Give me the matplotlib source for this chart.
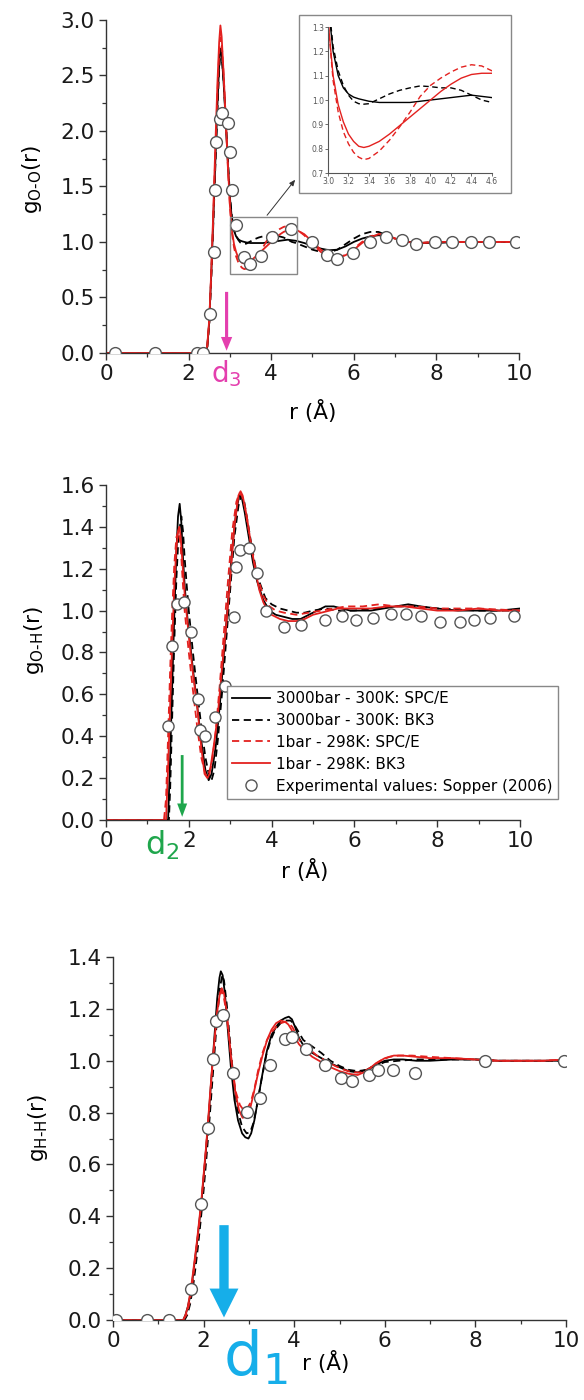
import matplotlib
matplotlib.use('Agg')
import matplotlib.pyplot as plt
from matplotlib.patches import Rectangle
from matplotlib.ticker import MultipleLocator, FormatStrFormatter

plt.rcParams['font.family'] = ['DejaVu Sans']
plt.rcParams['mathtext.fontset'] = 'dejavusans'

# ---------------- O-O ----------------
oo_r = [0, 2.40, 2.45, 2.50, 2.55, 2.60, 2.65, 2.70, 2.74, 2.77, 2.80, 2.85, 2.90, 2.95, 3.00, 3.05,
        3.10, 3.15, 3.20, 3.25, 3.30, 3.35, 3.40, 3.50, 3.60, 3.70, 3.80, 3.90, 4.00, 4.10, 4.20,
        4.30, 4.40, 4.50, 4.60, 4.80, 5.00, 5.20, 5.40, 5.60, 5.80, 6.00, 6.20, 6.40, 6.60, 6.80,
        7.00, 7.30, 7.60, 8.00, 8.50, 9.00, 9.50, 10.0]
oo_spce_3000 = [0, 0, 0.05, 0.28, 0.72, 1.22, 1.75, 2.25, 2.60, 2.74, 2.70, 2.42, 2.08, 1.72, 1.40,
                1.20, 1.10, 1.05, 1.025, 1.012, 1.005, 1.0, 0.995, 0.99, 0.99, 0.99, 0.99, 0.995,
                1.0, 1.005, 1.01, 1.015, 1.02, 1.015, 1.01, 0.99, 0.965, 0.94, 0.925, 0.93, 0.96,
                1.0, 1.03, 1.05, 1.06, 1.05, 1.03, 1.0, 0.99, 0.99, 1.0, 1.0, 1.0, 1.0]
oo_bk3_3000 = [0, 0, 0.04, 0.25, 0.68, 1.18, 1.70, 2.20, 2.55, 2.71, 2.69, 2.44, 2.10, 1.75, 1.42,
               1.22, 1.12, 1.06, 1.02, 0.995, 0.985, 0.983, 0.985, 1.005, 1.025, 1.04, 1.05, 1.058,
               1.055, 1.05, 1.05, 1.04, 1.02, 1.0, 0.99, 0.96, 0.93, 0.91, 0.905, 0.93, 0.98, 1.03,
               1.07, 1.09, 1.09, 1.06, 1.03, 1.0, 0.99, 1.0, 1.0, 1.0, 1.0, 1.0]
oo_spce_1 = [0, 0, 0.05, 0.28, 0.72, 1.25, 1.82, 2.35, 2.70, 2.84, 2.80, 2.50, 2.10, 1.68, 1.33,
             1.08, 0.95, 0.87, 0.82, 0.785, 0.765, 0.755, 0.76, 0.79, 0.835, 0.89, 0.95, 1.015,
             1.06, 1.09, 1.115, 1.135, 1.145, 1.14, 1.12, 1.06, 0.98, 0.91, 0.87, 0.86, 0.88, 0.94,
             1.0, 1.05, 1.07, 1.06, 1.03, 1.0, 0.99, 1.0, 1.0, 1.0, 1.0, 1.0]
oo_bk3_1 = [0, 0, 0.06, 0.30, 0.75, 1.30, 1.90, 2.45, 2.80, 2.95, 2.85, 2.50, 2.10, 1.70, 1.33,
            1.10, 0.98, 0.91, 0.86, 0.83, 0.81, 0.805, 0.81, 0.83, 0.86, 0.895, 0.93, 0.965, 1.0,
            1.035, 1.065, 1.09, 1.105, 1.11, 1.11, 1.07, 1.0, 0.93, 0.88, 0.865, 0.88, 0.93, 0.99,
            1.04, 1.07, 1.06, 1.03, 1.0, 0.99, 1.0, 1.0, 1.0, 1.0, 1.0]
oo_exp_r = [0.22, 1.19, 2.20, 2.35, 2.52, 2.62, 2.64, 2.67, 2.76, 2.82, 2.96, 3.00, 3.04, 3.15, 3.34,
            3.49, 3.75, 4.03, 4.47, 4.98, 5.34, 5.60, 5.97, 6.39, 6.78, 7.16, 7.50, 7.97, 8.38,
            8.83, 9.28, 9.93]
oo_exp_g = [0, 0, 0, 0, 0.35, 0.91, 1.47, 1.90, 2.11, 2.16, 2.07, 1.81, 1.47, 1.15, 0.86, 0.80,
            0.87, 1.04, 1.12, 1.0, 0.88, 0.85, 0.90, 1.0, 1.04, 1.02, 0.98, 1.0, 1.0, 1.0, 1.0, 1.0]

# ---------------- O-H ----------------
oh_r_spce_3000 = [0, 1.50, 1.55, 1.60, 1.65, 1.70, 1.74, 1.78, 1.82, 1.86, 1.90, 1.95, 2.00, 2.10,
                  2.20, 2.30, 2.40, 2.48, 2.55, 2.65, 2.75, 2.85, 2.95, 3.05, 3.15, 3.22, 3.28, 3.35,
                  3.45, 3.55, 3.65, 3.80, 3.95, 4.10, 4.30, 4.50, 4.70, 4.90, 5.10, 5.30, 5.50, 5.70,
                  5.90, 6.10, 6.40, 6.70, 7.00, 7.30, 7.60, 8.00, 8.50, 9.00, 9.50, 10.0]
oh_spce_3000 = [0, 0, 0.30, 0.65, 0.98, 1.28, 1.45, 1.51, 1.42, 1.25, 1.12, 1.0, 0.90, 0.72, 0.55,
                0.38, 0.24, 0.19, 0.22, 0.35, 0.55, 0.80, 1.05, 1.30, 1.48, 1.55, 1.54, 1.47, 1.35,
                1.23, 1.14, 1.05, 1.0, 0.98, 0.97, 0.96, 0.96, 0.98, 1.0, 1.02, 1.02, 1.01, 1.0,
                1.0, 1.0, 1.01, 1.02, 1.03, 1.02, 1.01, 1.0, 1.0, 1.0, 1.01]
oh_r_bk3_3000 = [0, 1.52, 1.55, 1.60, 1.65, 1.70, 1.75, 1.82, 1.86, 1.90, 1.95, 2.00, 2.10, 2.20,
                 2.30, 2.40, 2.50, 2.55, 2.62, 2.70, 2.80, 2.90, 3.00, 3.10, 3.20, 3.27, 3.33, 3.40,
                 3.50, 3.60, 3.70, 3.85, 4.00, 4.20, 4.40, 4.60, 4.80, 5.00, 5.30, 5.60, 6.00, 6.50,
                 7.00, 7.50, 8.00, 9.00, 10.0]
oh_bk3_3000 = [0, 0, 0.15, 0.50, 0.85, 1.15, 1.35, 1.45, 1.38, 1.25, 1.12, 1.0, 0.80, 0.62, 0.45,
               0.30, 0.20, 0.19, 0.24, 0.38, 0.60, 0.85, 1.10, 1.35, 1.50, 1.55, 1.53, 1.45, 1.33,
               1.22, 1.14, 1.06, 1.03, 1.01, 1.0, 0.99, 0.99, 1.0, 1.01, 1.0, 1.0, 1.01, 1.02,
               1.02, 1.01, 1.0, 1.0]
oh_r_spce_1 = [0, 1.40, 1.45, 1.50, 1.55, 1.60, 1.65, 1.70, 1.75, 1.80, 1.85, 1.90, 2.00, 2.10,
               2.20, 2.30, 2.40, 2.45, 2.55, 2.65, 2.75, 2.85, 2.95, 3.05, 3.15, 3.22, 3.28, 3.35,
               3.45, 3.55, 3.65, 3.80, 3.95, 4.10, 4.30, 4.60, 4.90, 5.20, 5.50, 5.80, 6.20, 6.60,
               7.00, 7.50, 8.00, 9.00, 10.0]
oh_spce_1 = [0, 0, 0.10, 0.40, 0.72, 1.0, 1.22, 1.35, 1.38, 1.32, 1.15, 1.0, 0.80, 0.62, 0.45,
             0.30, 0.22, 0.21, 0.26, 0.42, 0.65, 0.90, 1.15, 1.38, 1.52, 1.56, 1.55, 1.50, 1.38,
             1.26, 1.17, 1.07, 1.02, 1.0, 0.99, 0.98, 0.99, 1.0, 1.01, 1.02, 1.02, 1.03, 1.02,
             1.02, 1.01, 1.01, 1.0]
oh_r_bk3_1 = [0, 1.45, 1.50, 1.55, 1.60, 1.65, 1.70, 1.74, 1.77, 1.80, 1.85, 1.90, 1.95, 2.00,
              2.10, 2.20, 2.30, 2.38, 2.45, 2.50, 2.60, 2.70, 2.80, 2.90, 3.00, 3.10, 3.20, 3.25,
              3.30, 3.40, 3.50, 3.60, 3.70, 3.80, 3.90, 4.00, 4.20, 4.40, 4.60, 4.80, 5.00, 5.20,
              5.40, 5.60, 5.80, 6.00, 6.40, 6.80, 7.20, 7.60, 8.00, 8.50, 9.00, 9.50, 10.0]
oh_bk3_1 = [0, 0, 0.25, 0.55, 0.85, 1.12, 1.30, 1.38, 1.40, 1.36, 1.22, 1.08, 0.98, 0.88, 0.70,
            0.55, 0.35, 0.22, 0.20, 0.22, 0.35, 0.50, 0.72, 0.92, 1.15, 1.40, 1.55, 1.57, 1.55,
            1.45, 1.32, 1.20, 1.10, 1.04, 1.0, 0.98, 0.96, 0.95, 0.95, 0.96, 0.98, 0.99, 1.0,
            1.01, 1.01, 1.01, 1.01, 1.02, 1.02, 1.01, 1.0, 1.0, 1.01, 1.0, 1.0]
oh_exp_r = [1.49, 1.59, 1.72, 1.88, 2.06, 2.22, 2.26, 2.40, 2.64, 2.88, 3.08, 3.13, 3.24, 3.45,
            3.65, 3.87, 4.29, 4.72, 5.29, 5.69, 6.05, 6.46, 6.88, 7.25, 7.60, 8.07, 8.54, 8.90,
            9.28, 9.85]
oh_exp_g = [0.45, 0.83, 1.03, 1.04, 0.90, 0.58, 0.43, 0.40, 0.49, 0.64, 0.97, 1.21, 1.29, 1.30,
            1.18, 1.0, 0.92, 0.93, 0.955, 0.976, 0.955, 0.965, 0.985, 0.985, 0.976, 0.944, 0.944,
            0.955, 0.965, 0.976]

# ---------------- H-H ----------------
hh_r_spce_3000 = [0, 1.55, 1.60, 1.65, 1.70, 1.75, 1.80, 1.85, 1.90, 1.95, 2.00, 2.05, 2.10, 2.15,
                  2.20, 2.25, 2.30, 2.35, 2.38, 2.42, 2.47, 2.53, 2.60, 2.68, 2.76, 2.85, 2.92,
                  2.99, 3.05, 3.12, 3.20, 3.30, 3.40, 3.50, 3.60, 3.70, 3.80, 3.88, 3.95, 4.02,
                  4.10, 4.20, 4.40, 4.60, 4.80, 5.00, 5.20, 5.40, 5.60, 5.80, 6.00, 6.20, 6.40,
                  6.70, 7.00, 7.50, 8.00, 8.50, 9.00, 9.50, 10.0]
hh_spce_3000 = [0, 0, 0.02, 0.05, 0.09, 0.15, 0.22, 0.29, 0.37, 0.45, 0.55, 0.65, 0.76, 0.88, 1.0,
                1.12, 1.24, 1.32, 1.345, 1.33, 1.26, 1.13, 0.98, 0.85, 0.77, 0.72, 0.705, 0.70,
                0.72, 0.77, 0.85, 0.95, 1.04, 1.10, 1.13, 1.155, 1.165, 1.17, 1.16, 1.13, 1.09,
                1.06, 1.03, 1.01, 0.99, 0.975, 0.96, 0.955, 0.965, 0.985, 1.0, 1.005, 1.005, 1.0,
                1.0, 1.005, 1.005, 1.0, 1.0, 1.0, 1.0]
hh_r_bk3_3000 = [0, 1.58, 1.64, 1.70, 1.76, 1.82, 1.88, 1.94, 2.00, 2.06, 2.12, 2.18, 2.24, 2.30,
                 2.36, 2.41, 2.45, 2.51, 2.58, 2.66, 2.75, 2.85, 2.95, 3.03, 3.10, 3.18, 3.28,
                 3.38, 3.48, 3.58, 3.70, 3.82, 3.92, 4.00, 4.10, 4.20, 4.40, 4.60, 4.80, 5.00,
                 5.20, 5.40, 5.60, 5.80, 6.00, 6.30, 6.70, 7.00, 7.50, 8.00, 8.50, 9.00, 9.50, 10.0]
hh_bk3_3000 = [0, 0, 0.02, 0.06, 0.12, 0.20, 0.29, 0.39, 0.50, 0.62, 0.75, 0.89, 1.03, 1.17, 1.28,
               1.33, 1.31, 1.22, 1.08, 0.93, 0.81, 0.745, 0.72, 0.725, 0.76, 0.83, 0.93, 1.02,
               1.08, 1.12, 1.145, 1.155, 1.155, 1.14, 1.11, 1.08, 1.055, 1.03, 1.0, 0.98, 0.965,
               0.96, 0.965, 0.98, 0.995, 1.0, 1.005, 1.005, 1.005, 1.005, 1.0, 1.0, 1.0, 1.0]
hh_r_spce_1 = [0, 1.55, 1.62, 1.68, 1.74, 1.80, 1.86, 1.92, 1.98, 2.04, 2.10, 2.16, 2.22, 2.28,
               2.34, 2.39, 2.44, 2.50, 2.56, 2.63, 2.71, 2.80, 2.88, 2.96, 3.04, 3.12, 3.20, 3.30,
               3.40, 3.50, 3.60, 3.70, 3.80, 3.88, 3.96, 4.05, 4.15, 4.30, 4.50, 4.70, 4.90, 5.10,
               5.30, 5.50, 5.70, 5.90, 6.10, 6.30, 6.60, 7.00, 7.50, 8.00, 8.50, 9.00, 9.50, 10.0]
hh_spce_1 = [0, 0, 0.02, 0.06, 0.12, 0.21, 0.30, 0.40, 0.51, 0.63, 0.76, 0.90, 1.03, 1.15, 1.24,
             1.27, 1.25, 1.19, 1.09, 0.98, 0.88, 0.83, 0.81, 0.815, 0.84, 0.89, 0.96, 1.03, 1.08,
             1.11, 1.13, 1.145, 1.15, 1.145, 1.13, 1.10, 1.07, 1.05, 1.02, 1.0, 0.98, 0.965,
             0.955, 0.955, 0.975, 1.0, 1.015, 1.02, 1.02, 1.015, 1.01, 1.005, 1.0, 1.0, 1.0, 1.005]
hh_r_bk3_1 = [0, 1.55, 1.60, 1.65, 1.70, 1.75, 1.80, 1.85, 1.90, 1.95, 2.00, 2.05, 2.10, 2.15,
              2.20, 2.25, 2.30, 2.36, 2.40, 2.45, 2.50, 2.56, 2.62, 2.70, 2.78, 2.86, 2.94, 3.02,
              3.10, 3.20, 3.30, 3.40, 3.50, 3.60, 3.70, 3.80, 3.87, 3.94, 4.02, 4.10, 4.20, 4.40,
              4.60, 4.80, 5.00, 5.20, 5.40, 5.60, 5.80, 6.00, 6.20, 6.40, 6.70, 7.00, 7.50, 8.00,
              8.50, 9.00, 9.50, 10.0]
hh_bk3_1 = [0, 0, 0.02, 0.05, 0.10, 0.16, 0.23, 0.30, 0.38, 0.46, 0.56, 0.66, 0.77, 0.89, 1.0,
            1.10, 1.19, 1.26, 1.28, 1.26, 1.20, 1.10, 0.99, 0.88, 0.81, 0.78, 0.785, 0.81, 0.87,
            0.95, 1.02, 1.08, 1.12, 1.145, 1.155, 1.15, 1.14, 1.12, 1.09, 1.065, 1.045, 1.015,
            0.995, 0.975, 0.96, 0.95, 0.945, 0.96, 0.99, 1.01, 1.02, 1.02, 1.015, 1.01, 1.01,
            1.005, 1.0, 1.0, 1.0, 1.005]
hh_exp_r = [0.07, 0.75, 1.24, 1.72, 1.95, 2.09, 2.20, 2.28, 2.42, 2.65, 2.96, 3.25, 3.46, 3.79,
            3.96, 4.27, 4.69, 5.03, 5.28, 5.64, 5.84, 6.19, 6.66, 8.22, 9.96]
hh_exp_g = [0, 0, 0, 0.118, 0.449, 0.742, 1.005, 1.153, 1.175, 0.954, 0.802, 0.855, 0.983, 1.082,
            1.091, 1.044, 0.983, 0.935, 0.922, 0.945, 0.964, 0.964, 0.954, 0.999, 0.999]

labels = ['3000bar - 300K: SPC/E', '3000bar - 300K: BK3', '1bar - 298K: SPC/E',
          '1bar - 298K: BK3', 'Experimental values: Sopper (2006)']

RED = '#e3211f'
DASH = (4, 2.5)
styles = [dict(color='black', ls='-'), dict(color='black', ls='--', dashes=DASH),
          dict(color=RED, ls='--', dashes=DASH), dict(color=RED, ls='-')]
TICK_FS = 15.5


def style_axes(ax, ymax, ymaj, ymin):
    for s in ['top', 'right']:
        ax.spines[s].set_visible(False)
    for s in ['left', 'bottom']:
        ax.spines[s].set_color('#333333')
        ax.spines[s].set_linewidth(1.0)
    ax.set_xlim(0, 10)
    ax.set_ylim(0, ymax)
    ax.xaxis.set_major_locator(MultipleLocator(2))
    ax.xaxis.set_minor_locator(MultipleLocator(1))
    ax.yaxis.set_major_locator(MultipleLocator(ymaj))
    ax.yaxis.set_minor_locator(MultipleLocator(ymin))
    ax.yaxis.set_major_formatter(FormatStrFormatter('%.1f'))
    ax.tick_params(which='major', direction='out', length=5, width=1, labelsize=TICK_FS,
                   color='#333333', labelcolor='#1a1a1a', pad=3)
    ax.tick_params(which='minor', direction='out', length=3, width=0.9, color='#333333')


def draw_curves(ax, rs, gs, lw=1.3):
    hs = []
    for r, g, st in zip(rs, gs, styles):
        h, = ax.plot(r, g, lw=lw, **st)
        hs.append(h)
    return hs


def draw_exp(ax, r, g, ms=8):
    h, = ax.plot(r, g, 'o', ms=ms, mfc='white', mec='#555555', mew=1.0, ls='none', zorder=5)
    return h


fig = plt.figure(figsize=(5.84, 14), dpi=100)

# ---- top panel: O-O
ax1 = fig.add_axes([0.1815, 0.7479, 0.7072, 0.2379])
draw_curves(ax1, [oo_r] * 4, [oo_spce_3000, oo_bk3_3000, oo_spce_1, oo_bk3_1])
draw_exp(ax1, oo_exp_r, oo_exp_g, ms=8.5)
style_axes(ax1, 3.0, 0.5, 0.25)
ax1.set_ylabel('g$_\\mathregular{O\u2010O}$(r)', fontsize=TICK_FS)
ax1.set_xlabel('r (Å)', fontsize=TICK_FS)
ax1.yaxis.set_label_coords(-0.15, 0.52)
ax1.xaxis.set_label_coords(0.5, -0.14)
ax1.add_patch(Rectangle((3.0, 0.71), 1.63, 0.51, fill=False, ec='#888888', lw=1.0, zorder=6))
ax1.annotate('', xy=(4.58, 1.56), xytext=(3.9, 1.24),
             arrowprops=dict(arrowstyle='-|>,head_width=0.15,head_length=0.35', color='#333333',
                             lw=0.7, shrinkA=0, shrinkB=0))
d3_r = 2.92
ax1.annotate('', xy=(d3_r, 0.02), xytext=(d3_r, 0.55),
             arrowprops=dict(arrowstyle='simple,head_length=1.1,head_width=0.9,tail_width=0.25',
                             color='#e43fae', lw=0, shrinkA=0, shrinkB=0, mutation_scale=9))
ax1.text(d3_r, -0.05, r'd$_3$', color='#e43fae', fontsize=20, ha='center', va='top')

# inset
frame = Rectangle((0.512, 0.8621), 0.363, 0.1271, transform=fig.transFigure,
                  fill=True, fc='white', ec='#888888', lw=1.0, zorder=3)
fig.add_artist(frame)
axi = fig.add_axes([0.5616, 0.8764, 0.2808, 0.1043])
axi.set_zorder(5)
draw_curves(axi, [oo_r] * 4, [oo_spce_3000, oo_bk3_3000, oo_spce_1, oo_bk3_1], lw=1.0)
axi.set_xlim(3.0, 4.6)
axi.set_ylim(0.7, 1.3)
axi.xaxis.set_major_locator(MultipleLocator(0.2))
axi.yaxis.set_major_locator(MultipleLocator(0.1))
axi.xaxis.set_major_formatter(FormatStrFormatter('%.1f'))
axi.yaxis.set_major_formatter(FormatStrFormatter('%.1f'))
for s in ['top', 'right']:
    axi.spines[s].set_visible(False)
for s in ['left', 'bottom']:
    axi.spines[s].set_color('#555555')
    axi.spines[s].set_linewidth(0.8)
axi.tick_params(direction='out', length=2, width=0.6, labelsize=5.5, colors='#555555', pad=1)

# ---- middle panel: O-H
ax2 = fig.add_axes([0.1815, 0.4143, 0.7089, 0.2393])
hs = draw_curves(ax2, [oh_r_spce_3000, oh_r_bk3_3000, oh_r_spce_1, oh_r_bk3_1],
                 [oh_spce_3000, oh_bk3_3000, oh_spce_1, oh_bk3_1])
he = draw_exp(ax2, oh_exp_r, oh_exp_g, ms=8)
style_axes(ax2, 1.6, 0.2, 0.1)
ax2.set_ylabel('g$_\\mathregular{O\u2010H}$(r)', fontsize=TICK_FS)
ax2.set_xlabel('r (Å)', fontsize=TICK_FS)
ax2.yaxis.set_label_coords(-0.146, 0.535)
ax2.xaxis.set_label_coords(0.48, -0.115)
leg = ax2.legend(hs + [he], labels, loc='lower right', bbox_to_anchor=(1.0925, 0.063),
                 borderaxespad=0, fontsize=11, labelspacing=0.45, handlelength=2.5,
                 handletextpad=0.4, borderpad=0.35, fancybox=False, framealpha=1,
                 edgecolor='#888888')
leg.get_frame().set_linewidth(1.0)
leg.set_zorder(10)
d2_r = 1.84
ax2.annotate('', xy=(d2_r, 0.015), xytext=(d2_r, 0.31),
             arrowprops=dict(arrowstyle='simple,head_length=1.2,head_width=0.9,tail_width=0.25',
                             color='#1fa64c', lw=0, shrinkA=0, shrinkB=0, mutation_scale=8))
ax2.text(1.36, -0.04, r'd$_2$', color='#1fa64c', fontsize=23, ha='center', va='top')

# ---- bottom panel: H-H
ax3 = fig.add_axes([0.1935, 0.0571, 0.7757, 0.2593])
draw_curves(ax3, [hh_r_spce_3000, hh_r_bk3_3000, hh_r_spce_1, hh_r_bk3_1],
            [hh_spce_3000, hh_bk3_3000, hh_spce_1, hh_bk3_1])
draw_exp(ax3, hh_exp_r, hh_exp_g, ms=8.5)
style_axes(ax3, 1.4, 0.2, 0.1)
ax3.set_ylabel('g$_\\mathregular{H\u2010H}$(r)', fontsize=TICK_FS)
ax3.set_xlabel('r (Å)', fontsize=TICK_FS)
ax3.yaxis.set_label_coords(-0.14, 0.53)
ax3.xaxis.set_label_coords(0.47, -0.085)
d1_r = 2.45
ax3.annotate('', xy=(d1_r, 0.01), xytext=(d1_r, 0.366),
             arrowprops=dict(arrowstyle='simple,head_length=1.3,head_width=1.3,tail_width=0.42',
                             color='#16aee9', lw=0, shrinkA=0, shrinkB=0, mutation_scale=16))
ax3.text(2.42, -0.03, r'd$_1$', color='#16aee9', fontsize=44, ha='left', va='top')

fig.savefig('out.png', dpi=100)
